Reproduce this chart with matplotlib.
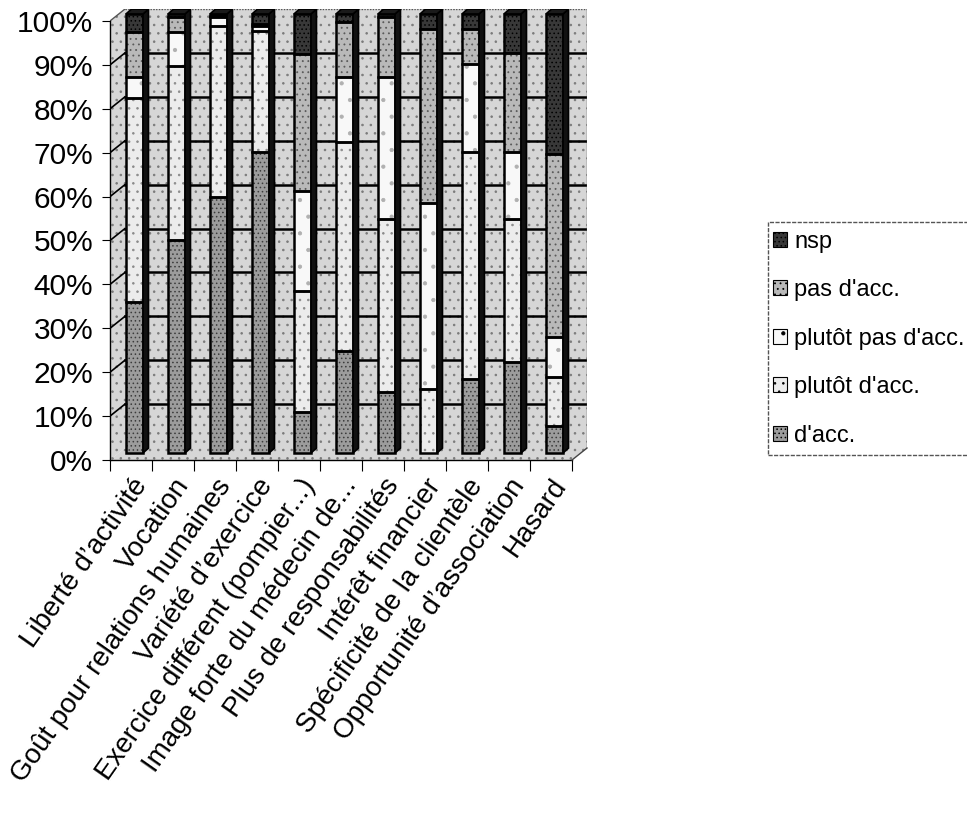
import numpy as np
import matplotlib
matplotlib.use("Agg")
import matplotlib.pyplot as plt
from matplotlib.patches import Polygon, Rectangle, Patch

# --- data -------------------------------------------------------------
categories = [
    "Liberté d’activité",
    "Vocation",
    "Goût pour relations humaines",
    "Variété d’exercice",
    "Exercice différent (pompier...)",
    "Image forte du médecin de...",
    "Plus de responsabilités",
    "Intérêt financier",
    "Spécificité de la clientèle",
    "Opportunité d’association",
    "Hasard",
]

# stacked from the bottom up (percent of answers)
d_acc      = [34.4, 48.5, 58.3, 68.6,  9.3, 23.2, 13.9,  0.0, 16.9, 20.7,  6.2]
plutot_acc = [46.5, 39.6, 39.0, 27.5, 27.6, 47.6, 39.4, 14.6, 51.7, 32.6, 11.2]
plutot_pas = [ 4.8,  7.7,  2.0,  1.1, 22.8, 14.8, 32.3, 42.4, 20.0, 15.3,  9.1]
pas_acc    = [10.3,  3.4,  0.3,  0.5, 31.2, 12.5, 13.7, 39.6,  8.0, 22.6, 41.7]
nsp        = [ 4.0,  0.8,  0.4,  2.3,  9.1,  1.8,  0.7,  3.4,  3.4,  8.9, 31.9]

series_labels = ["d'acc.", "plutôt d'acc.", "plutôt pas d'acc.", "pas d'acc.", "nsp"]
series_values = [d_acc, plutot_acc, plutot_pas, pas_acc, nsp]
y_ticks = list(range(0, 101, 10))
y_tick_labels = [f"{t}%" for t in y_ticks]

# --- styling ----------------------------------------------------------
plt.rcParams["font.family"] = ["Liberation Sans", "DejaVu Sans"]
plt.rcParams["hatch.linewidth"] = 0.6

face_colors = ["#9c9c9c", "#ececec", "#f8f8f8", "#b9b9b9", "#383838"]
hatch_colors = ["#3c3c3c", "#8a8a8a", "#b0b0b0", "#5a5a5a", "#000000"]
hatches = ["....", "..", ".", "...", "...."]
wall_color = "#d6d6d6"

W, H = 967, 822
fig = plt.figure(figsize=(W / 100, H / 100), dpi=100)

# 3D-look geometry (data units)
dx, dy = 0.357, 2.73          # depth of the walls
bar_x0, bar_w = -0.119, 0.405  # front face of each bar relative to category
bar_base = 1.6                 # bars stand mid-depth on the floor
sdx, sdy = 0.13, 1.1           # depth of each bar

x0_px, x1_px, ybot_px, ytop_px = 110, 587, 460, 9
ax = fig.add_axes([x0_px / W, 1 - ybot_px / H,
                   (x1_px - x0_px) / W, (ybot_px - ytop_px) / H])
ax.set_xlim(-0.5, 10.5 + dx)
ax.set_ylim(0, 100 + dy)
for s in ax.spines.values():
    s.set_visible(False)

n = len(categories)
xl, xr = -0.5, n - 0.5


def textured(poly_xy, face, hcolor, hatch, z, lw=0.0, ec="none"):
    with plt.rc_context({"hatch.color": hcolor}):
        p = Polygon(poly_xy, closed=True, facecolor=face, hatch=hatch,
                    linewidth=0, zorder=z)
    ax.add_patch(p)
    if lw > 0:
        ax.add_patch(Polygon(poly_xy, closed=True, fill=False,
                             edgecolor=ec, linewidth=lw, zorder=z + 0.01))


# back wall, left wall and floor
textured([(xl + dx, dy), (xr + dx, dy), (xr + dx, 100 + dy), (xl + dx, 100 + dy)],
         wall_color, "#7a7a7a", "..", 1)
textured([(xl, 0), (xl + dx, dy), (xl + dx, 100 + dy), (xl, 100)],
         wall_color, "#7a7a7a", "..", 1)
textured([(xl, 0), (xr, 0), (xr + dx, dy), (xl + dx, dy)],
         wall_color, "#7a7a7a", "..", 1)

for v in y_ticks[1:-1]:
    ax.plot([xl + dx, xr + dx], [v + dy, v + dy], color="black", lw=1.8, zorder=2)
    ax.plot([xl, xl + dx], [v, v + dy], color="black", lw=1.2, zorder=2)
ax.plot([xl + dx, xr + dx], [100 + dy, 100 + dy], color="#555555", lw=1.0,
        ls=(0, (1, 1)), zorder=2)
ax.plot([xr + dx, xr + dx], [dy, 100 + dy], color="#555555", lw=1.0, zorder=2)
ax.plot([xl, xl + dx], [100, 100 + dy], color="#555555", lw=1.0, zorder=2)

# stacked bars
vals = np.array(series_values, dtype=float)
vals = vals / vals.sum(axis=0) * 100.0
cum = np.vstack([np.zeros(n), np.cumsum(vals, axis=0)])
for i in range(n):
    left = i + bar_x0
    right = left + bar_w
    for k in range(len(series_values)):
        y0 = bar_base + cum[k, i]
        y1 = bar_base + cum[k + 1, i]
        if y1 - y0 <= 0:
            continue
        textured([(left, y0), (right, y0), (right, y1), (left, y1)],
                 face_colors[k], hatch_colors[k], hatches[k], 5,
                 lw=1.8, ec="black")
    top = bar_base + cum[-1, i]
    # dark side face
    ax.add_patch(Polygon([(right, bar_base), (right + sdx, bar_base + sdy),
                          (right + sdx, top + sdy), (right, top)],
                         closed=True, facecolor="#111111", edgecolor="black",
                         linewidth=1.2, zorder=6))
    # top face
    ax.add_patch(Polygon([(left, top), (right, top), (right + sdx, top + sdy),
                          (left + sdx, top + sdy)],
                         closed=True, facecolor="#1a1a1a", edgecolor="black",
                         linewidth=1.2, zorder=6))

# front axes
ax.plot([xl, xl], [0, 100], color="black", lw=1.0, zorder=8, clip_on=False)
ax.plot([xl, xr], [0, 0], color="black", lw=1.0, zorder=8, clip_on=False)
ax.plot([xr, xr + dx], [0, dy], color="#444444", lw=1.0, zorder=8, clip_on=False)

ax.set_yticks(y_ticks)
ax.set_yticklabels(y_tick_labels, fontsize=21.5)
ax.tick_params(axis="y", direction="out", length=6, width=0.8, pad=6)

ax.set_xticks(np.arange(n))
ax.set_xticklabels(categories, rotation=55, ha="right", va="top",
                   rotation_mode="anchor", fontsize=20)
ax.tick_params(axis="x", which="major", length=0, pad=10)
ax.set_xticks(np.arange(n + 1) - 0.5, minor=True)
ax.tick_params(axis="x", which="minor", direction="out", length=8, width=0.8)

# legend with a dashed frame running off the right edge
frame = Rectangle((768 / W, 1 - 455 / H), 220 / W, (455 - 222) / H,
                  transform=fig.transFigure, fill=False, edgecolor="#555555",
                  linewidth=1.0, linestyle=(0, (3, 1)), clip_on=False)
fig.add_artist(frame)
handles = []
for k in reversed(range(len(series_values))):
    with plt.rc_context({"hatch.color": hatch_colors[k]}):
        handles.append(Patch(facecolor=face_colors[k], hatch=hatches[k],
                             edgecolor="black", linewidth=0.8,
                             label=series_labels[k]))
fig.legend(handles=handles, loc="upper left",
           bbox_to_anchor=(768 / W, 1 - 226 / H), frameon=False, fontsize=17,
           handlelength=0.6, handleheight=0.6, handletextpad=0.3,
           labelspacing=1.12, borderpad=0.2, borderaxespad=0)

fig.savefig("out.png", dpi=100)
